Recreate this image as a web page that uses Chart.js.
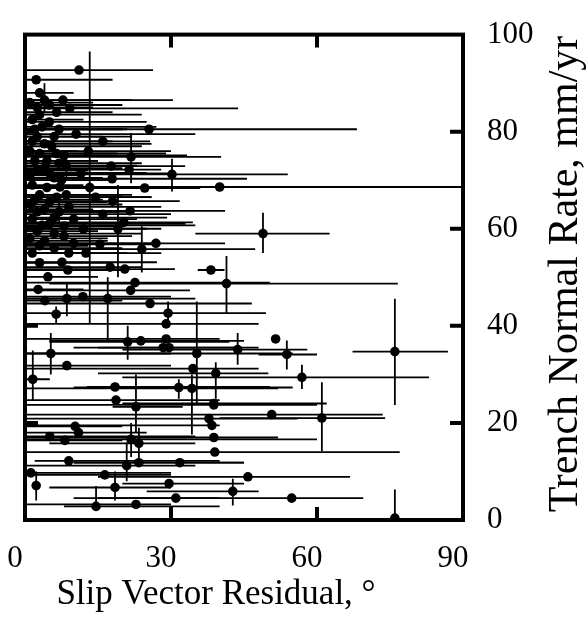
<!DOCTYPE html>
<html>
<head>
<meta charset="utf-8">
<script src="https://cdn.jsdelivr.net/npm/chart.js@4.4.1/dist/chart.umd.min.js"></script>
<style>
  html, body { margin: 0; padding: 0; background: #fff; }
</style>
</head>
<body>
<canvas id="myScatter" width="588" height="618"></canvas>
<script>
// slip vector residual (deg) and trench normal rate (mm/yr) for each point
var residual = [11.1, 2.3, 7.8, 9.2, 25.5, 3, 5, 2, 16, 6, 4, 8, 21.8, 17.7, 21.4, 30.2, 17.9, 11.5, 40, 24.6,
  7.2, 18, 2, 4, 6, 3, 5, 9, 2.5, 21.6, 6, 20.3, 3.5, 48.9, 12, 8, 26.9, 24, 15.4, 7.6,
  38.2, 20.5, 17.5, 8.8, 4.7, 41.4, 22.6, 21.7, 2.7, 4.1, 8.6, 11.9, 17, 25.7, 6.4, 29.4, 29, 29, 21.1, 23.8,
  28.4, 29.6, 51.5, 43.7, 53.8, 76, 5.3, 8.6, 35.3, 34.5, 56.9, 39.2, 38.8, 50.7, 61, 37.8, 38.4, 38.8, 39, 45.8,
  42.7, 54.8, 76, 1.6, 18.5, 18.7, 22.8, 31.6, 34.3, 38.8, 10.3, 11, 5.1, 8.2, 21.8, 23.4, 9, 23.4, 31.8, 20.9,
  1.2, 16.4, 2.3, 18.5, 29.6, 31, 22.8, 14.6, 13.3, 19.1, 1, 1.5, 1, 1.2, 1, 1.5, 3, 5, 10.5, 13,
  7, 14.5, 10, 16, 12.5, 3, 6,
  2.5, 4, 6.5, 1.5, 3.5, 7, 2.5, 5.5, 1, 3, 6.5, 4.5, 8.5, 2.5, 5, 7.5, 1.5, 4.5, 8.5, 2,
  6.5, 4, 7, 1.5, 5, 8, 2.5, 6, 4, 10, 9, 3];
var rate = [92.7, 90.7, 86.5, 84.8, 80.5, 83.5, 82, 80.5, 78, 79, 77.5, 75.1, 74.8, 72.9, 72.2, 71.2, 70.3, 71.4, 68.6, 68.4,
  68.6, 65.7, 74, 72.5, 70.5, 67, 65.5, 64.5, 63.5, 63.7, 62.3, 61.3, 60.7, 59, 60, 58.5, 57, 55.8, 56.8, 53.1,
  51.5, 51.7, 52.1, 51.5, 50.1, 48.7, 48.9, 47.3, 47.5, 45.2, 45.6, 46, 45.6, 44.6, 42.4, 42.6, 40.4, 37.3, 36.7, 36.9,
  35.5, 35.5, 37.3, 35.1, 34.1, 34.7, 34.3, 31.8, 34.3, 31.2, 29.4, 30.2, 23.7, 21.7, 21, 20.9, 19.5, 17, 14, 8.9,
  5.9, 4.5, 0.4, 29, 27.4, 24.7, 23.3, 27.3, 27.1, 24, 19.3, 18, 17.2, 16.4, 16.6, 15.8, 12.2, 11.8, 11.8, 11.2,
  9.7, 9.3, 7.1, 6.7, 7.5, 4.5, 3.2, 2.8, 68.5, 60, 86, 78, 71, 65, 58, 55, 88, 85.5, 79.5, 76,
  73.5, 66.5, 62, 63, 55, 53, 56,
  85, 86.5, 84, 82.5, 81, 80.5, 79, 77, 76, 75.5, 75.5, 74, 73, 72, 71.5, 70, 69, 68.5, 67, 66,
  66.5, 64, 63.5, 62, 61, 60.5, 59.5, 59, 57.5, 57, 55, 56.5];
// horizontal error bar ends (null = no bar)
var residualLow = [0, 0, 0, 0, 0, 0, 0, 0, 0, 0, 0, 0, 0, 0, 0, 0, 0, 0, 0, 0,
  0, 0, 0, 0, 0, 0, 0, 0, 0, 0, 0, 0, 0, 35, 0, 0, 0, 0, 0, 0,
  35.5, 0, 0, 0, 0, 5, 0, 0, 0, 0, 0, 0, 0, 0, null, 0, 0, 0, 5, 5,
  10, 15, null, 20, 48, 67.3, 0, 0, 0, 0, 20, 15, 0, 0, 40, 0, 0, 0, 0, 15,
  25, 10, null, 0, 12.7, 0, 18, 10, 0, 20, 0, 0, 0, 0, 0, 5, 2, 10, 10, 0,
  0, 0, null, 5, 20, 15, 0, 8, 0, 0, 0, 0, 0, 0, 0, 0, 0, 0, 0, 0,
  0, 0, 0, 0, 0, 0, 0,
  0, 0, 0, 0, 0, 0, 0, 0, 0, 0, 0, 0, 0, 0, 0, 0, 0, 0, 0, 0,
  0, 0, 0, 0, 0, 0, 0, 0, 0, 0, 0, 0];
var residualHigh = [26.3, 18, 30.4, 43.8, 68.2, 24, 25, 20, 25.7, 22, 26, 33.3, 40.3, 32.9, 28, 54, 45.6, 30, 90, 36,
  20, 31.8, 15, 20, 16, 22, 17, 28, 19, 41.1, 29.2, 34.5, 35, 62.6, 25, 22, 41.1, 47.3, 27, 27.1,
  41, 30.8, 24, 20, 15, 76.6, 50.3, 33.9, 12, 20, 25, 30, 35, 46.6, null, 49.5, 48, 40, 42, 45,
  48, 44, null, 58, 60, 86.9, 30, 30, 55, 48, 83, 50, 60, 73.5, 74, 56, 40, 52, 77, 66.8,
  48, 69.5, null, 5.1, 50.3, 40, 32.4, 55, 52, 62, 20, 25, 35, 20, 60, 35, 40, 45, 45, 35,
  30, 30, null, 30, 45, 40, 30, 40, 25, 28, 14, 18, 12, 20, 17, 13, 10, 20, 35, 30,
  24, 26, 23, 30, 28, 18, 20,
  14, 22, 18, 12, 27, 21, 16, 24, 11, 19, 29, 15, 23, 13, 25, 18, 12, 30, 20, 16,
  26, 14, 22, 12, 33, 19, 15, 24, 17, 28, 21, 13];
// vertical error bar ends (null = no bar)
var rateLow = [null, null, null, null, null, null, null, null, null, null, null, null, 69.4, null, null, 67.7, null, null, null, null,
  null, null, null, null, null, null, null, null, null, null, null, null, null, 55, null, null, null, 51, null, null,
  null, null, null, null, null, 42.6, null, null, null, null, 42, null, 37, null, 40.5, 40, null, null, 33, null,
  null, null, null, 32, 31, 23.7, 30, null, 24, null, 27, 25, null, null, 14.2, null, null, null, null, null,
  3, null, 0, 24.7, null, null, 18, 25, 17.6, null, null, null, null, null, 13, 11, null, null, null, 8,
  null, null, 4, 4, null, null, null, 2.8, 40.6, 50, null, null, null, null, null, null, null, null, null, null,
  null, null, null, null, null, null, null,
  null, 84, null, null, null, null, null, null, null, null, null, null, 70, null, null, null, null, null, null, null,
  null, null, 61, null, null, null, null, null, null, null, null, null];
var rateHigh = [null, null, null, null, null, null, null, null, null, null, null, null, 79.7, null, null, 74.4, null, null, null, null,
  null, null, null, null, null, null, null, null, null, null, null, null, null, 63.3, null, null, null, 60.5, null, null,
  null, null, null, null, null, 54.4, null, null, null, null, 49, null, 50, null, 44, 45, null, null, 40, null,
  null, null, null, 38.5, 37, 45.6, 38.5, null, 45, null, 32, 32.5, null, null, 28.4, null, null, null, null, null,
  8.5, null, 6.3, 34.9, null, null, 30, 29, 30, null, null, null, null, null, 20, 19, null, null, null, 16,
  null, null, 10, 10, null, null, null, 7, 96.5, 69, null, null, null, null, null, null, null, null, null, null,
  null, null, null, null, null, null, null,
  null, 90, null, null, null, null, null, null, null, null, null, null, 76, null, null, null, null, null, null, null,
  null, null, 66, null, null, null, null, null, null, null, null, null];

var xTitle = 'Slip Vector Residual, °';
var yTitle = 'Trench Normal Rate, mm/yr';

var points = [];
for (var i = 0; i < residual.length; i++) {
  points.push({ x: residual[i], y: rate[i] });
}

var serif = 'Liberation Serif, Times New Roman, serif';

// error bars drawn under the dots
var errorBars = {
  id: 'errorBars',
  beforeDatasetsDraw: function(chart) {
    var ctx = chart.ctx;
    var xa = chart.scales.x;
    var ya = chart.scales.y;
    var area = chart.chartArea;
    ctx.save();
    ctx.beginPath();
    ctx.rect(area.left, area.top, area.right - area.left, area.bottom - area.top);
    ctx.clip();
    ctx.strokeStyle = '#000';
    ctx.lineWidth = 1.8;
    for (var i = 0; i < residual.length; i++) {
      var px = xa.getPixelForValue(residual[i]);
      var py = ya.getPixelForValue(rate[i]);
      ctx.beginPath();
      if (residualLow[i] !== null) {
        ctx.moveTo(xa.getPixelForValue(residualLow[i]), py);
        ctx.lineTo(xa.getPixelForValue(residualHigh[i]), py);
      }
      if (rateLow[i] !== null) {
        ctx.moveTo(px, ya.getPixelForValue(rateLow[i]));
        ctx.lineTo(px, ya.getPixelForValue(rateHigh[i]));
      }
      ctx.stroke();
    }
    ctx.restore();
  }
};

// heavy frame, inward ticks and the axis titles
var frame = {
  id: 'frame',
  afterDraw: function(chart) {
    var ctx = chart.ctx;
    var xa = chart.scales.x;
    var ya = chart.scales.y;
    var a = chart.chartArea;
    var len = 13;
    ctx.save();
    ctx.strokeStyle = '#000';
    ctx.lineWidth = 4;
    ctx.strokeRect(a.left, a.top, a.right - a.left, a.bottom - a.top);
    ctx.beginPath();
    xa.ticks.forEach(function(t) {
      if (t.value <= xa.min || t.value >= xa.max) return;
      var p = xa.getPixelForValue(t.value);
      ctx.moveTo(p, a.bottom); ctx.lineTo(p, a.bottom - len);
      ctx.moveTo(p, a.top); ctx.lineTo(p, a.top + len);
    });
    ya.ticks.forEach(function(t) {
      if (t.value <= ya.min || t.value >= ya.max) return;
      var p = ya.getPixelForValue(t.value);
      ctx.moveTo(a.left, p); ctx.lineTo(a.left + len, p);
      ctx.moveTo(a.right, p); ctx.lineTo(a.right - len, p);
    });
    ctx.stroke();

    ctx.fillStyle = '#000';
    ctx.textAlign = 'center';
    ctx.textBaseline = 'alphabetic';
    ctx.font = '35px ' + serif;
    ctx.fillText(xTitle, 216, 604);

    ctx.font = '42px ' + serif;
    ctx.translate(577, 274);
    ctx.rotate(-Math.PI / 2);
    ctx.fillText(yTitle, 0, 0);
    ctx.restore();
  }
};

var myScatter = new Chart(document.getElementById('myScatter'), {
  type: 'scatter',
  data: {
    datasets: [{
      data: points,
      pointRadius: 4.8,
      pointBackgroundColor: '#000',
      pointBorderWidth: 0,
      pointHoverRadius: 4.8
    }]
  },
  options: {
    responsive: false,
    animation: false,
    devicePixelRatio: 1,
    layout: { padding: { left: 25, top: 27, right: 0, bottom: 0 } },
    plugins: {
      legend: { display: false },
      tooltip: { enabled: false }
    },
    scales: {
      x: {
        type: 'linear',
        position: 'bottom',
        min: 0,
        max: 90,
        grid: { display: false },
        border: { display: false },
        ticks: {
          stepSize: 30,
          padding: 12,
          labelOffset: -10,
          maxRotation: 0,
          color: '#000',
          font: { family: serif, size: 31 }
        },
        afterFit: function(scale) { scale.height = 98; }
      },
      y: {
        type: 'linear',
        position: 'right',
        min: 0,
        max: 100,
        grid: { display: false },
        border: { display: false },
        ticks: {
          stepSize: 20,
          padding: 16,
          color: '#000',
          font: { family: serif, size: 31 }
        },
        afterFit: function(scale) { scale.width = 125; }
      }
    }
  },
  plugins: [errorBars, frame]
});
</script>
</body>
</html>
